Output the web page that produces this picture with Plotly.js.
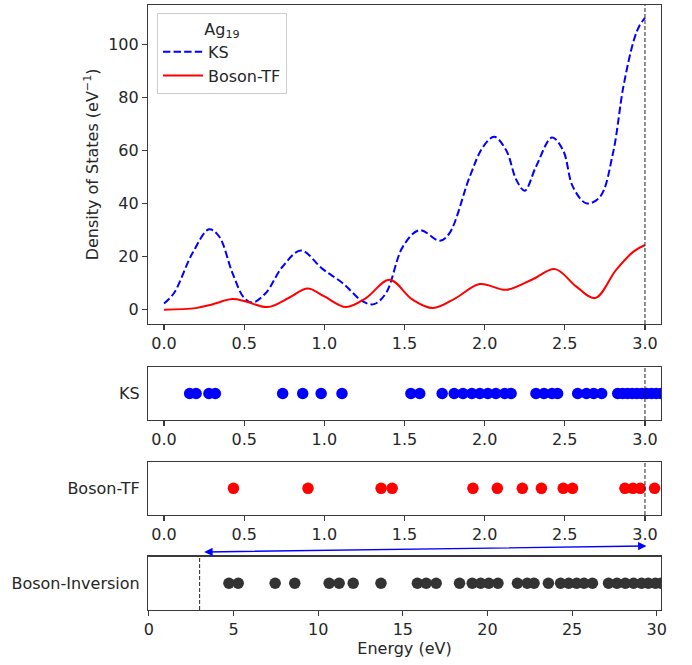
<!DOCTYPE html>
<html>
<head>
<meta charset="utf-8">
<script src="https://cdn.plot.ly/plotly-3.0.1.min.js"></script>
<style>html,body{margin:0;padding:0;background:#fff;}#chart{width:692px;height:665px;}</style>
</head>
<body>
<div id="chart"></div>
<script>
// DOS curves (energy in eV, DOS in eV^-1)
const ksCurveX = [0, 0.0625, 0.177, 0.281, 0.344, 0.427, 0.50, 0.552, 0.635, 0.74, 0.854, 0.99, 1.115, 1.24, 1.31, 1.385, 1.49, 1.594, 1.72, 1.78, 1.906, 1.99, 2.06, 2.135, 2.198, 2.25, 2.32, 2.42, 2.49, 2.55, 2.635, 2.72, 2.80, 2.865, 2.93, 2.965, 3.0];
const ksCurveY = [2.3, 6.3, 21.3, 30.3, 27.6, 13.8, 4.4, 2.7, 6.3, 16.3, 22.3, 15.3, 10, 3.1, 2.1, 6.3, 23.8, 30, 26, 28.8, 50, 61.4, 65.2, 60, 48.9, 44.9, 53.9, 64.9, 60, 46.4, 40.1, 42.6, 58.9, 84, 101.5, 107, 110];
const tfCurveX = [0, 0.198, 0.30, 0.427, 0.51, 0.646, 0.78, 0.896, 1.0, 1.135, 1.26, 1.406, 1.55, 1.677, 1.82, 1.97, 2.135, 2.30, 2.44, 2.57, 2.69, 2.82, 2.93, 3.0];
const tfCurveY = [0, 0.6, 2, 4, 3.1, 1, 4.5, 8, 5, 1, 4.4, 11.3, 3.8, 0.6, 4.4, 9.7, 7.5, 11.5, 15.3, 8.8, 4.4, 15, 22, 24.4];

// Energy levels
const ksLevels = [0.16, 0.20, 0.28, 0.32, 0.74, 0.865, 0.98, 1.11, 1.54, 1.595, 1.735, 1.81, 1.865, 1.92, 1.97, 2.02, 2.07, 2.125, 2.165, 2.32, 2.37, 2.42, 2.455, 2.58, 2.635, 2.68, 2.73, 2.83, 2.86, 2.89, 2.92, 2.95, 2.98, 3.01, 3.04, 3.07, 3.10];
const tfLevels = [0.433, 0.898, 1.354, 1.423, 1.927, 2.079, 2.235, 2.354, 2.49, 2.548, 2.875, 2.925, 2.97, 3.06];
const invLevels = [4.73, 5.28, 7.46, 8.62, 10.65, 11.24, 12.07, 13.71, 15.86, 16.38, 16.97, 18.35, 19.1, 19.6, 20.08, 20.62, 21.77, 22.35, 22.75, 23.6, 24.32, 24.8, 25.27, 25.7, 26.2, 27.15, 27.65, 28.14, 28.63, 29.1, 29.5, 29.92, 30.25];

const seriesNames = ['KS', 'Boson-TF', 'Boson-Inversion'];
const topTicks = [0, 0.5, 1.0, 1.5, 2.0, 2.5, 3.0];
const bottomTicks = [0, 5, 10, 15, 20, 25, 30];
const cutoffTop = 3.0;   // eV, dashed line in upper panels
const cutoffBottom = 3;  // eV, dashed line in bottom panel

const xr1 = [-0.1, 3.1];
const xr4 = [-0.05, 30.25];
const axColor = '#3a3a3a';
const FS = 16;
const txt = '#262626';
const fnt = {family: 'DejaVu Sans', size: FS, color: txt};

function baseX(range, ticks, fmt) {
  return {
    range: range, tickvals: ticks, ticktext: ticks.map(v => fmt(v)),
    ticks: 'outside', ticklen: 5, tickwidth: 1.1, tickcolor: axColor,
    showline: true, mirror: true, linecolor: axColor, linewidth: 1.1,
    showgrid: false, zeroline: false, fixedrange: true, tickfont: fnt
  };
}
function smallY(dom, label) {
  return {
    domain: dom, range: [-1, 1], tickvals: [0], ticktext: [label], ticks: '',
    showline: true, mirror: true, linecolor: axColor, linewidth: 1.1,
    showgrid: false, zeroline: false, fixedrange: true, tickfont: fnt, ticklabelstandoff: 4
  };
}

const traces = [
  {x: ksCurveX, y: ksCurveY, mode: 'lines', name: seriesNames[0], xaxis: 'x', yaxis: 'y',
   line: {color: '#0000ff', width: 2, dash: '7.4px,3.2px', shape: 'spline', smoothing: 1}},
  {x: tfCurveX, y: tfCurveY, mode: 'lines', name: seriesNames[1], xaxis: 'x', yaxis: 'y',
   line: {color: '#ff0000', width: 2, shape: 'spline', smoothing: 1}},
  {x: ksLevels, y: ksLevels.map(() => 0), mode: 'markers', xaxis: 'x2', yaxis: 'y2', showlegend: false,
   marker: {size: 11.5, color: '#0000ff'}},
  {x: tfLevels, y: tfLevels.map(() => 0), mode: 'markers', xaxis: 'x3', yaxis: 'y3', showlegend: false,
   marker: {size: 11.5, color: '#ff0000'}},
  {x: invLevels, y: invLevels.map(() => 0), mode: 'markers', xaxis: 'x4', yaxis: 'y4', showlegend: false,
   marker: {size: 11.5, color: '#333333'}}
];

const f1 = v => v.toFixed(1);
const f0 = v => String(v);

const domTop = [0.4719, 0.9988], domKS = [0.3135, 0.4010], domTF = [0.1568, 0.2447], domInv = [0, 0.0882];

function paperX(v, r) { return (v - r[0]) / (r[1] - r[0]); }

const dashLine = {dash: '4px,2px', width: 1, color: '#222'};
const shapes = [
  {type: 'line', xref: 'x', yref: 'y domain', x0: cutoffTop, x1: cutoffTop, y0: 0, y1: 1, line: dashLine},
  {type: 'line', xref: 'x2', yref: 'y2 domain', x0: cutoffTop, x1: cutoffTop, y0: 0, y1: 1, line: dashLine},
  {type: 'line', xref: 'x3', yref: 'y3 domain', x0: cutoffTop, x1: cutoffTop, y0: 0, y1: 1, line: dashLine},
  {type: 'line', xref: 'x4', yref: 'y4 domain', x0: cutoffBottom, x1: cutoffBottom, y0: 0, y1: 1, line: dashLine}
];

const annotations = [
  {xref: 'paper', yref: 'paper', axref: 'paper', ayref: 'paper',
   x: paperX(cutoffTop, xr1) + 0.003, y: 0.1056,
   ax: paperX(cutoffBottom, xr4) + 0.006, ay: 0.0957,
   text: '', showarrow: true, arrowside: 'end+start', arrowhead: 2, startarrowhead: 2,
   arrowsize: 1.2, startarrowsize: 1.2, arrowwidth: 1.4, arrowcolor: '#0000ff', standoff: 0, startstandoff: 0}
];

const layout = {
  width: 692, height: 665,
  margin: {l: 148, r: 31, t: 4, b: 55},
  paper_bgcolor: '#ffffff', plot_bgcolor: '#ffffff',
  font: fnt,
  showlegend: true,
  legend: {
    x: 0.0175, y: 0.985, xanchor: 'left', yanchor: 'top',
    bgcolor: '#ffffff', bordercolor: '#cccccc', borderwidth: 1,
    font: fnt, itemwidth: 40,
    title: {text: 'Ag<sub>19</sub>', side: 'top center', font: fnt},
    tracegroupgap: 0
  },
  xaxis: Object.assign(baseX(xr1, topTicks, f1), {domain: [0, 1], anchor: 'y'}),
  yaxis: {
    domain: domTop, range: [-5.4, 115], tickvals: [0, 20, 40, 60, 80, 100],
    ticks: 'outside', ticklen: 5, tickwidth: 1.1, tickcolor: axColor,
    showline: true, mirror: true, linecolor: axColor, linewidth: 1.1,
    showgrid: false, zeroline: false, fixedrange: true, anchor: 'x', tickfont: fnt,
    title: {text: 'Density of States (eV<sup>−1</sup>)', standoff: 5, font: fnt}
  },
  xaxis2: Object.assign(baseX(xr1, topTicks, f1), {domain: [0, 1], anchor: 'y2'}),
  yaxis2: Object.assign(smallY(domKS, seriesNames[0]), {anchor: 'x2'}),
  xaxis3: Object.assign(baseX(xr1, topTicks, f1), {domain: [0, 1], anchor: 'y3'}),
  yaxis3: Object.assign(smallY(domTF, seriesNames[1]), {anchor: 'x3'}),
  xaxis4: Object.assign(baseX(xr4, bottomTicks, f0), {domain: [0, 1], anchor: 'y4', title: {text: 'Energy (eV)', standoff: 4, font: fnt}}),
  yaxis4: Object.assign(smallY(domInv, seriesNames[2]), {anchor: 'x4'}),
  shapes: shapes,
  annotations: annotations
};

Plotly.newPlot('chart', traces, layout, {displayModeBar: false, staticPlot: true});
</script>
</body>
</html>
